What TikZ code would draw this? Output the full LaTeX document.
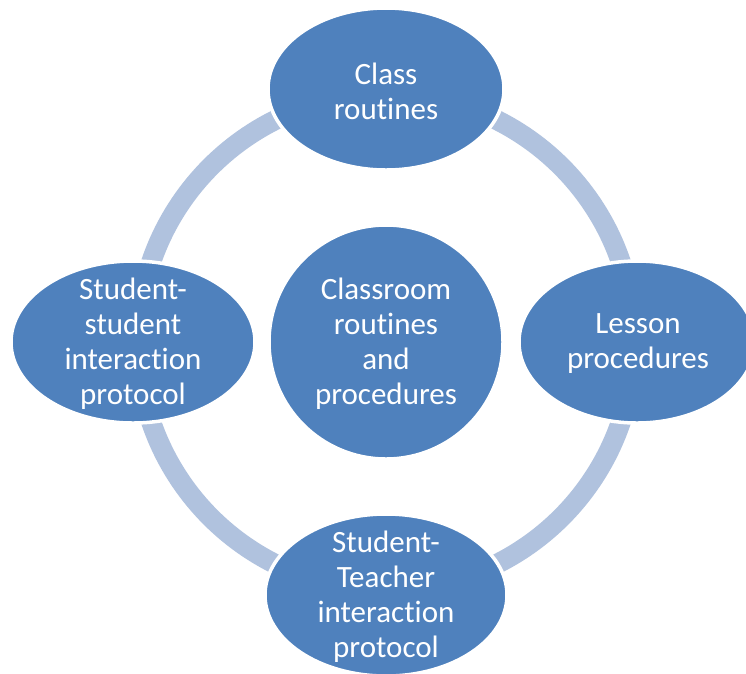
\documentclass[tikz,border=0pt]{standalone}
\usepackage{fontspec}
\setmainfont[RawFeature={-liga;-clig;-calt;-dlig}]{Carlito}
\definecolor{nodeblue}{HTML}{4F81BD}
\definecolor{ringblue}{HTML}{B0C2DE}
\begin{document}
\begin{tikzpicture}[x=1pt,y=-1pt,
  blob/.style={fill=nodeblue,draw=white,line width=3.5pt},
  lbl/.style={text=white,align=center,inner sep=0pt,font=\fontsize{31}{35}\selectfont},
  ring/.style={draw=ringblue,line width=20pt}]
\useasboundingbox (0,0) rectangle (746,673);
\clip (0,0) rectangle (746,673);
\coordinate (c) at (386,342);
\draw[ring] (c) circle [radius=248];
\path[blob] (386,89) ellipse [x radius=118, y radius=81];
\path[blob] (637,342) ellipse [x radius=118, y radius=81];
\path[blob] (133,342) ellipse [x radius=122, y radius=81];
\path[blob] (386,595) ellipse [x radius=121, y radius=81];
\path[blob] (c) circle [radius=117];
\node[lbl] (top) at (386,91) {Class\\routines};
\node[lbl] (right) at (638,344) {Lesson\\procedures};
\node[lbl] (left) at (133,344) {Student-\\student\\interaction\\protocol};
\node[lbl] (bottom) at (386,597) {Student-\\Teacher\\interaction\\protocol};
\node[lbl] (center) at (386,344) {Classroom\\routines\\and\\procedures};
\end{tikzpicture}
\end{document}
